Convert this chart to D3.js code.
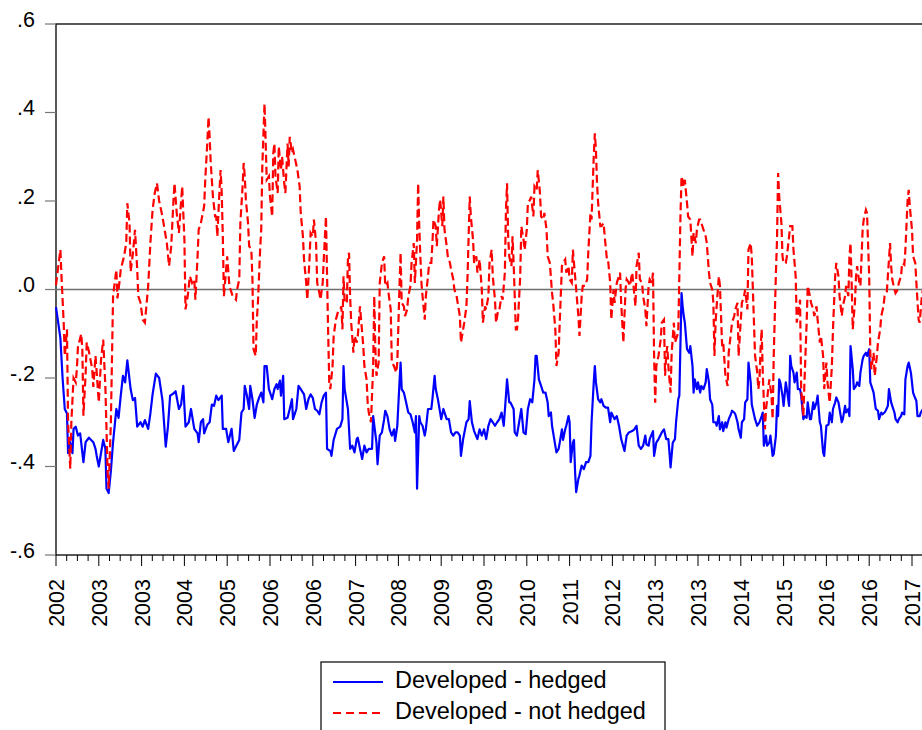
<!DOCTYPE html>
<html>
<head>
<meta charset="utf-8">
<script src="https://cdn.jsdelivr.net/npm/d3@7"></script>
<style>
  body { margin: 0; background: #fff; }
  svg { display: block; font-family: "Liberation Sans", Arial, sans-serif; }
</style>
</head>
<body>
<svg id="chart" width="922" height="730"></svg>
<script>
// weekly observations, [obs, value]
const hedged = [
  [0,-0.04],[4,-0.11],[6,-0.20],[8,-0.27],[10,-0.28],[11,-0.37],[13,-0.345],[15,-0.37],[16,-0.315],[18,-0.31],[20,-0.33],[22,-0.325],[25,-0.39],[27,-0.345],[30,-0.335],[32,-0.34],[34,-0.345],[36,-0.36],[37,-0.375],[39,-0.40],[41,-0.37],[43,-0.34],[45,-0.36],[46,-0.45],[48,-0.46],[50,-0.41],[52,-0.345],[55,-0.27],[57,-0.29],[59,-0.24],[61,-0.195],[63,-0.21],[65,-0.16],[68,-0.225],[70,-0.25],[72,-0.245],[74,-0.31],[77,-0.30],[79,-0.31],[81,-0.295],[84,-0.315],[86,-0.28],[88,-0.237],[91,-0.19],[94,-0.20],[97,-0.25],[100,-0.355],[102,-0.31],[104,-0.24],[107,-0.235],[109,-0.23],[112,-0.27],[114,-0.26],[116,-0.218],[118,-0.31],[121,-0.30],
  [123,-0.27],[126,-0.315],[129,-0.325],[130,-0.345],[132,-0.30],[134,-0.293],[135,-0.325],[138,-0.305],[140,-0.30],[142,-0.26],[144,-0.263],[146,-0.24],[148,-0.25],[151,-0.24],[152,-0.315],[155,-0.315],[157,-0.345],[159,-0.325],[160,-0.315],[162,-0.365],[164,-0.355],[167,-0.34],[169,-0.278],[171,-0.27],[172,-0.218],[174,-0.24],[176,-0.27],[177,-0.218],[179,-0.248],[181,-0.29],[183,-0.26],[185,-0.245],[187,-0.233],[189,-0.255],[190,-0.173],[192,-0.173],[194,-0.225],[196,-0.24],[197,-0.248],[199,-0.225],[201,-0.214],[202,-0.225],[204,-0.206],[205,-0.24],[207,-0.195],[208,-0.293],[211,-0.29],[213,-0.27],[215,-0.248],[216,-0.293],[219,-0.27],[221,-0.218],[223,-0.225],[226,-0.237],[228,-0.27],[230,-0.248],[232,-0.237],[234,-0.245],[236,-0.27],[238,-0.274],[240,-0.282],[242,-0.255],[244,-0.24],[246,-0.233],[247,-0.36],[250,-0.365],[251,-0.376],[253,-0.34],[256,-0.315],
  [259,-0.31],[261,-0.293],[262,-0.173],[263,-0.225],[265,-0.255],[266,-0.27],[268,-0.36],[270,-0.353],[272,-0.368],[274,-0.338],[275,-0.335],[277,-0.36],[279,-0.383],[281,-0.353],[283,-0.368],[285,-0.36],[288,-0.36],[289,-0.286],[292,-0.346],[293,-0.395],[295,-0.33],[297,-0.323],[299,-0.293],[300,-0.274],[302,-0.286],[304,-0.316],[306,-0.33],[308,-0.316],[309,-0.342],[311,-0.308],[313,-0.21],[314,-0.165],[315,-0.225],[317,-0.233],[319,-0.255],[321,-0.278],[323,-0.282],[325,-0.30],[327,-0.323],[328,-0.286],[329,-0.45],[331,-0.286],[332,-0.30],[334,-0.308],[336,-0.33],[337,-0.316],[339,-0.27],[342,-0.27],[343,-0.248],[345,-0.195],[346,-0.225],[348,-0.248],[349,-0.263],[351,-0.293],[353,-0.27],[356,-0.293],[358,-0.293],[360,-0.323],[362,-0.33],[364,-0.323],[366,-0.323],[368,-0.33],[369,-0.376],[371,-0.338],[374,-0.30],[376,-0.293],[377,-0.252],[379,-0.30],[381,-0.32],[384,-0.338],
  [386,-0.316],[388,-0.33],[390,-0.316],[392,-0.338],[394,-0.308],[396,-0.293],[398,-0.30],[400,-0.308],[402,-0.30],[404,-0.293],[406,-0.278],[408,-0.308],[410,-0.24],[411,-0.203],[413,-0.255],[414,-0.255],[417,-0.27],[418,-0.323],[420,-0.33],[422,-0.30],[424,-0.27],[426,-0.323],[428,-0.327],[430,-0.27],[432,-0.248],[434,-0.255],[436,-0.203],[437,-0.15],[438,-0.15],[440,-0.203],[442,-0.218],[444,-0.233],[446,-0.233],[448,-0.255],[449,-0.286],[451,-0.278],[452,-0.308],[454,-0.338],[456,-0.368],[458,-0.36],[459,-0.346],[461,-0.316],[462,-0.34],[464,-0.316],[465,-0.308],[467,-0.286],[468,-0.30],[469,-0.39],[471,-0.346],[472,-0.34],[473,-0.413],[474,-0.458],[476,-0.428],[477,-0.42],[479,-0.398],[481,-0.406],[483,-0.39],[485,-0.39],[487,-0.376],[488,-0.30],[490,-0.21],[491,-0.173],[492,-0.21],[494,-0.248],[496,-0.255],[497,-0.248],[499,-0.263],[501,-0.267],[503,-0.267],[505,-0.30],[506,-0.278],[509,-0.293],[511,-0.286],[513,-0.308],
  [515,-0.338],[518,-0.365],[520,-0.33],[522,-0.323],[525,-0.32],[527,-0.316],[529,-0.308],[531,-0.353],[533,-0.36],[535,-0.353],[537,-0.33],[538,-0.35],[540,-0.353],[541,-0.338],[544,-0.32],[545,-0.376],[547,-0.346],[549,-0.338],[552,-0.323],[554,-0.316],[556,-0.338],[558,-0.338],[559,-0.368],[560,-0.402],[562,-0.346],[564,-0.338],[565,-0.30],[567,-0.248],[568,-0.24],[570,-0.008],[571,-0.038],[572,-0.06],[573,-0.075],[575,-0.135],[577,-0.143],[578,-0.128],[580,-0.173],[581,-0.233],[582,-0.203],[584,-0.225],[585,-0.21],[587,-0.233],[588,-0.218],[590,-0.225],[592,-0.21],[593,-0.18],[595,-0.21],[596,-0.248],[598,-0.26],[599,-0.30],[601,-0.30],[602,-0.308],[604,-0.286],[605,-0.316],[607,-0.30],[608,-0.32],[610,-0.30],[611,-0.312],[613,-0.293],[615,-0.282],[616,-0.274],[618,-0.278],[619,-0.282],[621,-0.30],[622,-0.316],[624,-0.335],[625,-0.30],[627,-0.293],[628,-0.255],[630,-0.248],[631,-0.165],[633,-0.21],
  [634,-0.26],[637,-0.293],[639,-0.308],[641,-0.30],[643,-0.286],[644,-0.278],[645,-0.353],[647,-0.33],[648,-0.353],[650,-0.346],[651,-0.33],[653,-0.376],[654,-0.372],[656,-0.33],[657,-0.263],[658,-0.286],[659,-0.203],[660,-0.21],[662,-0.24],[663,-0.263],[665,-0.21],[666,-0.225],[668,-0.263],[669,-0.15],[670,-0.173],[672,-0.188],[673,-0.21],[675,-0.188],[676,-0.225],[678,-0.225],[679,-0.24],[681,-0.293],[682,-0.286],[684,-0.29],[685,-0.255],[687,-0.293],[688,-0.293],[690,-0.255],[691,-0.27],[693,-0.255],[694,-0.24],[696,-0.30],[697,-0.308],[699,-0.368],[700,-0.376],[702,-0.308],[704,-0.305],[705,-0.278],[707,-0.30],[708,-0.27],[710,-0.255],[711,-0.244],[713,-0.255],[714,-0.27],[716,-0.30],[717,-0.293],[719,-0.263],[720,-0.278],[722,-0.27],[723,-0.286],[724,-0.128],[726,-0.18],[727,-0.225],[729,-0.218],[730,-0.21],[732,-0.218],[733,-0.188],[735,-0.158],[736,-0.15],[738,-0.143],[739,-0.15],[741,-0.135],[742,-0.21],[744,-0.225],[745,-0.233],[747,-0.27],[749,-0.274],[750,-0.293],[752,-0.278],[753,-0.282],[755,-0.278],[756,-0.274],[758,-0.263],[759,-0.225],[761,-0.255],[762,-0.263],[764,-0.278],[765,-0.293],[767,-0.30],[768,-0.293],[770,-0.286],[771,-0.278],[773,-0.282],[774,-0.203],[776,-0.173],[777,-0.165],[779,-0.188],[781,-0.233],[782,-0.24],[784,-0.252],[785,-0.286],[787,-0.286],[788,-0.278],[790,-0.27],[791,-0.26]
];

const notHedged = [
  [0,0.01],[4,0.09],[5,0.03],[7,-0.075],[8,-0.15],[10,-0.09],[11,-0.30],[13,-0.405],[14,-0.30],[16,-0.20],[18,-0.21],[19,-0.18],[20,-0.13],[23,-0.10],[24,-0.135],[25,-0.285],[27,-0.19],[28,-0.12],[30,-0.14],[33,-0.18],[34,-0.22],[36,-0.15],[39,-0.255],[41,-0.16],[43,-0.113],[45,-0.22],[47,-0.41],[48,-0.45],[50,-0.30],[52,-0.015],[55,0.045],[56,-0.02],[58,0.02],[59,0.045],[62,0.075],[64,0.105],[65,0.195],[67,0.15],[68,0.04],[70,0.08],[72,0.135],[74,0.045],[75,-0.015],[77,-0.03],[79,-0.068],[81,-0.075],[84,0.008],[86,0.105],[88,0.18],[90,0.218],[92,0.24],[94,0.20],[97,0.165],[99,0.135],[101,0.105],[103,0.053],[105,0.098],[107,0.20],[108,0.24],[110,0.173],[112,0.128],[114,0.20],[115,0.233],[117,0.113],[118,-0.045],[120,-0.015],[122,0.03],
  [124,0.015],[126,0.023],[127,-0.023],[129,0.075],[130,0.135],[132,0.15],[135,0.188],[136,0.248],[138,0.338],[139,0.39],[140,0.345],[141,0.286],[143,0.21],[145,0.165],[146,0.165],[147,0.12],[149,0.225],[150,0.27],[151,0.218],[152,0.12],[153,-0.015],[154,0.015],[156,0.075],[158,0.008],[159,0],[161,-0.015],[164,-0.023],[165,0],[167,0.023],[168,0.15],[170,0.233],[171,0.286],[172,0.256],[173,0.203],[175,0.15],[176,0.098],[178,0.09],[179,0.023],[180,-0.135],[182,-0.15],[183,-0.068],[184,-0.03],[186,0.09],[187,0.135],[188,0.278],[190,0.42],[191,0.338],[192,0.248],[194,0.256],[195,0.21],[197,0.165],[198,0.308],[199,0.33],[200,0.256],[202,0.218],[203,0.323],[205,0.27],[206,0.30],[208,0.24],[209,0.218],[211,0.33],[212,0.278],[213,0.345],[215,0.308],[216,0.316],[218,0.293],[220,0.27],[222,0.233],[223,0.173],[225,0.12],[226,0.068],[228,0.015],[229,-0.023],[231,0.068],[232,0.128],[234,0.12],[235,0.158],[237,0.105],[238,0.015],[240,-0.008],[241,-0.023],[243,0.015],[244,0.068],[246,0.165],[247,0.03],[248,-0.098],[249,-0.21],[250,-0.225],[252,-0.173],[253,-0.105],[255,-0.068],[257,-0.05],[259,-0.045],
  [260,-0.038],[261,-0.09],[262,0.03],[263,-0.03],[265,-0.03],[266,0.068],[267,0.083],[268,-0.015],[269,-0.075],[271,-0.143],[272,-0.105],[274,-0.12],[275,-0.105],[277,-0.038],[278,-0.068],[280,-0.128],[281,-0.173],[283,-0.203],[284,-0.256],[285,-0.278],[287,-0.30],[289,-0.173],[290,-0.015],[291,-0.135],[292,-0.195],[294,-0.165],[295,0.015],[297,0.06],[299,0.075],[300,0.008],[302,0.015],[303,-0.008],[305,-0.045],[306,-0.165],[308,-0.173],[310,-0.188],[311,-0.165],[313,0.008],[314,0.083],[315,-0.03],[317,-0.038],[318,-0.06],[320,-0.045],[321,-0.015],[323,0.008],[324,0.06],[326,0.105],[327,0.015],[329,0.113],[330,0.24],[331,0.143],[332,0.075],[333,0.015],[334,-0.015],[336,-0.068],[337,-0.015],[339,0.03],[340,0.06],[342,0.06],[343,0.105],[344,0.158],[346,0.143],[347,0.098],[349,0.18],[350,0.203],[352,0.143],[353,0.21],[354,0.135],[356,0.098],[357,0.075],[359,0.06],[360,0.045],[362,0.023],[363,0],[365,-0.015],[366,-0.03],[368,-0.06],[369,-0.12],[371,-0.09],[372,-0.075],[374,-0.038],[375,0.03],[377,0.21],[378,0.165],[380,0.113],[381,0.06],[383,0.075],[384,0.038],[386,0.068],
  [388,0],[389,-0.075],[391,-0.038],[392,-0.045],[394,-0.015],[395,0.06],[397,0.09],[398,0.03],[400,-0.023],[401,-0.075],[403,-0.045],[404,-0.045],[406,-0.015],[407,-0.023],[409,0.038],[410,0.18],[411,0.24],[412,0.12],[413,0.075],[415,0.053],[416,0.12],[417,0.06],[419,-0.09],[420,-0.09],[421,-0.068],[423,0.03],[424,0.143],[426,0.113],[427,0.09],[429,0.135],[430,0.195],[432,0.203],[433,0.21],[435,0.165],[436,0.233],[438,0.225],[439,0.27],[441,0.218],[442,0.165],[444,0.158],[445,0.173],[447,0.135],[448,0.075],[450,0.06],[452,-0.008],[453,-0.03],[455,-0.09],[456,-0.173],[458,-0.143],[459,-0.075],[461,0.053],[462,0.06],[464,0.068],[465,0.038],[467,0.053],[468,0.023],[470,0.015],[471,0.09],[473,0.03],[474,0],[476,-0.06],[477,-0.105],[479,-0.015],[480,0.008],[482,0.008],[484,0.023],[485,0.083],[487,0.173],[488,0.158],[490,0.30],[491,0.353],[492,0.316],[493,0.24],[494,0.195],[496,0.143],[497,0.143],[499,0.15],[500,0.12],[502,0.068],[503,0.068],[505,0.015],[506,-0.068],
  [508,0],[509,-0.03],[511,0.015],[512,0.023],[514,0.038],[515,-0.03],[517,-0.12],[519,0],[520,0.023],[522,0.015],[523,0.008],[525,0.038],[526,0.015],[528,-0.038],[529,0.053],[531,0.083],[532,0.023],[534,0.015],[535,-0.015],[537,-0.045],[538,-0.083],[540,0.008],[541,0.023],[543,0.015],[544,0.038],[545,-0.15],[546,-0.256],[547,-0.173],[549,-0.15],[551,-0.113],[552,-0.075],[554,-0.068],[555,-0.195],[556,-0.15],[557,-0.128],[558,-0.173],[560,-0.233],[561,-0.143],[563,-0.075],[564,-0.12],[566,-0.105],[567,-0.098],[568,0.03],[569,0.165],[570,0.256],[572,0.233],[573,0.248],[575,0.195],[576,0.165],[578,0.158],[580,0.075],[581,0.128],[583,0.105],[584,0.135],[586,0.158],[587,0.158],[589,0.143],[590,0.135],[592,0.12],[593,0.105],[595,0.038],[596,0.015],[598,0],[599,-0.03],[600,-0.15],[601,-0.075],[602,-0.038],[604,0.03],[605,0.008],[607,-0.128],[608,-0.12],[610,-0.195],[612,-0.218],[613,-0.143],[615,-0.098],[616,-0.075],[618,-0.06],[619,-0.045],[621,-0.03],[622,-0.15],[624,-0.068],[625,-0.03],[627,-0.015],[628,0],[630,-0.045],[631,0.09],[633,0.105],[634,0.075],
  [636,-0.075],[637,-0.15],[639,-0.188],[640,-0.225],[641,-0.203],[642,-0.135],[643,-0.09],[644,-0.188],[646,-0.316],[647,-0.27],[649,-0.225],[650,-0.203],[652,-0.24],[653,-0.293],[654,-0.15],[656,0.038],[657,0.113],[658,0.263],[659,0.21],[661,0.15],[662,0.075],[663,0.06],[665,0.06],[666,0.075],[668,0.12],[669,0.143],[671,0.143],[672,0.09],[674,0.03],[675,-0.075],[677,-0.038],[678,-0.023],[679,-0.225],[681,-0.286],[682,-0.21],[684,-0.075],[685,0.008],[687,-0.015],[688,-0.03],[690,-0.045],[691,-0.06],[693,-0.038],[694,-0.068],[696,-0.12],[697,-0.105],[699,-0.15],[700,-0.225],[702,-0.165],[703,-0.21],[705,-0.256],[707,-0.173],[708,-0.09],[710,0.03],[711,0.06],[713,0.03],[714,-0.015],[716,-0.06],[717,-0.038],[719,-0.015],[720,0.008],[722,-0.015],[723,0.075],[724,0.105],[725,0.015],[726,-0.09],[728,-0.03],[729,0.03],[730,0.053],[732,0.015],[733,0.008],[735,0.135],[736,0.158],[738,0.18],[739,0.173],[741,0.03],[742,-0.143],[743,-0.18],[745,-0.143],[746,-0.195],[748,-0.15],[749,-0.12],[751,-0.09],[752,-0.06],[754,-0.038],[755,-0.015],[757,-0.008],[758,0.03],[760,0.105],[761,0.053],[762,0.023],[764,0],[765,-0.008],[767,0],[768,0.015],[770,0.03],[771,0.06],[773,0.056],[774,0.09],[776,0.203],[777,0.225],[778,0.188],[780,0.135],[781,0.075],[783,0.06],[784,0.015],[786,-0.068],[787,-0.075],[789,-0.015],[790,0],[791,0.008]
];

// one label every 39 weeks, as printed on the axis
const tickLabels = ["2002","2003","2003","2004","2005","2006","2006","2007","2008","2009","2009",
  "2010","2011","2012","2013","2013","2014","2015","2016","2016","2017"];
const yTicks = [0.6, 0.4, 0.2, 0, -0.2, -0.4, -0.6];
const yTickLabels = [".6", ".4", ".2", ".0", "-.2", "-.4", "-.6"];
const seriesNames = ["Developed - hedged", "Developed - not hedged"];

const tickStep = 39;
const lastObs = 792;

const svg = d3.select("#chart");

const x = d3.scaleLinear()
    .domain([0, tickStep * (tickLabels.length - 1)])
    .range([56, 912]);

const y = d3.scaleLinear()
    .domain([-0.6, 0.6])
    .range([555, 24]);

const fontSize = "21.5px";

// frame
svg.append("rect")
    .attr("x", x(0))
    .attr("y", y(0.6))
    .attr("width", x(lastObs) - x(0))
    .attr("height", y(-0.6) - y(0.6))
    .style("fill", "none")
    .style("stroke", "#000")
    .style("stroke-width", 1.3);

// y ticks + labels
svg.selectAll(".ytick")
    .data(yTicks)
    .enter()
    .append("line")
    .attr("class", "ytick")
    .attr("x1", x(0) - 11)
    .attr("x2", x(0))
    .attr("y1", d => y(d))
    .attr("y2", d => y(d))
    .style("stroke", "#777")
    .style("stroke-width", 1.2);

svg.selectAll(".ylab")
    .data(yTicks)
    .enter()
    .append("text")
    .attr("class", "ylab")
    .attr("x", 35)
    .attr("y", d => y(d) + 2.5)
    .attr("text-anchor", "end")
    .style("font-size", fontSize)
    .text((d, i) => yTickLabels[i]);

// x ticks (major every 39 obs, 3 minor between)
const minorTicks = d3.range(0, lastObs, tickStep / 4);
svg.selectAll(".xminor")
    .data(minorTicks)
    .enter()
    .append("line")
    .attr("class", "xminor")
    .attr("x1", d => x(d))
    .attr("x2", d => x(d))
    .attr("y1", y(-0.6))
    .attr("y2", (d, i) => y(-0.6) + (i % 4 === 0 ? 11 : 6))
    .style("stroke", "#000")
    .style("stroke-width", 1);

svg.selectAll(".xlab")
    .data(tickLabels)
    .enter()
    .append("text")
    .attr("class", "xlab")
    .attr("transform", (d, i) => `translate(${x(i * tickStep) + 8}, 579) rotate(-90)`)
    .attr("text-anchor", "end")
    .style("font-size", fontSize)
    .text(d => d);

// zero line
svg.append("line")
    .attr("x1", x(0))
    .attr("x2", x(lastObs))
    .attr("y1", y(0))
    .attr("y2", y(0))
    .style("stroke", "#6e6e6e")
    .style("stroke-width", 1.5);

const line = d3.line()
    .x(d => x(d[0]))
    .y(d => y(d[1]));

svg.append("path")
    .datum(hedged)
    .attr("d", line)
    .style("fill", "none")
    .style("stroke", "#0000ff")
    .style("stroke-width", 2.2)
    .style("stroke-linejoin", "round");

svg.append("path")
    .datum(notHedged)
    .attr("d", line)
    .style("fill", "none")
    .style("stroke", "#ff0000")
    .style("stroke-width", 2.2)
    .style("stroke-dasharray", "8,4");

// legend
svg.append("rect")
    .attr("x", 321)
    .attr("y", 662)
    .attr("width", 344)
    .attr("height", 100)
    .style("fill", "#fff")
    .style("stroke", "#000")
    .style("stroke-width", 1.2);

const legendColors = ["#0000ff", "#ff0000"];
const legendDash = [null, "8,5"];
seriesNames.forEach((name, i) => {
    const ly = 682 + i * 31;
    svg.append("line")
        .attr("x1", 333).attr("x2", 383)
        .attr("y1", ly).attr("y2", ly)
        .style("stroke", legendColors[i])
        .style("stroke-width", 2.2)
        .style("stroke-dasharray", legendDash[i]);
    svg.append("text")
        .attr("x", 395)
        .attr("y", ly + 6)
        .style("font-size", "23.5px")
        .text(name);
});
</script>
</body>
</html>
